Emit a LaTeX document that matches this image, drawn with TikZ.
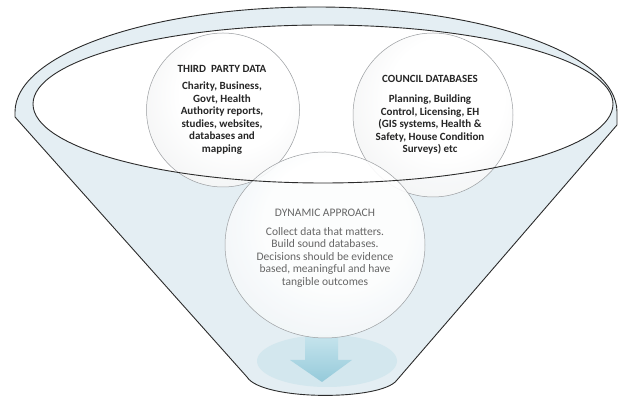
\documentclass[tikz,border=0pt]{standalone}
\usepackage{fontspec}
\setmainfont{Carlito}
\usetikzlibrary{shapes.geometric}
\definecolor{funnelfill}{HTML}{E4EEF3}
\definecolor{funnelline}{HTML}{2B2B2B}
\definecolor{circline}{HTML}{9A9DA0}
\definecolor{arrowtop}{HTML}{C4E3EC}
\definecolor{arrowbot}{HTML}{95CADA}
\definecolor{pool}{HTML}{D3E7EE}
\definecolor{darktext}{HTML}{262626}
\definecolor{greytext}{HTML}{666666}
\definecolor{ballgreyA}{HTML}{EDEEEF}
\definecolor{ballgreyB}{HTML}{C9CCCF}
\definecolor{ballblueA}{HTML}{E9F0F3}
\definecolor{ballblueB}{HTML}{C3D3DA}
\pgfdeclareradialshading{greyball}{\pgfpoint{6bp}{8bp}}{color(0bp)=(white); color(18bp)=(white); color(40bp)=(ballgreyA); color(56bp)=(ballgreyB)}
\pgfdeclareradialshading{blueball}{\pgfpoint{4bp}{8bp}}{color(0bp)=(white); color(18bp)=(white); color(40bp)=(ballblueA); color(56bp)=(ballblueB)}
\tikzset{
  funnelstroke/.style={draw=funnelline, line width=0.9pt},
  ballbase/.style={ellipse, draw=circline, line width=0.5pt, inner sep=0pt, fill opacity=0.9},
  greycirc/.style={ballbase, shading=greyball},
  bluecirc/.style={ballbase, shading=blueball},
  toptext/.style={align=center, text=darktext, inner sep=0pt, font=\bfseries\fontsize{11}{12.5}\selectfont},
  lowtext/.style={align=center, text=greytext, inner sep=0pt, font=\fontsize{11.5}{12.5}\selectfont},
}
\begin{document}
\begin{tikzpicture}[x=1pt,y=1pt]
\useasboundingbox (0,0) rectangle (619,398);
% funnel body
\coordinate (rimL) at (15,286);
\coordinate (sideL) at (15,281);
\coordinate (sideR) at (617,273);
\coordinate (botL) at (247,21);
\coordinate (botR) at (397,18);
\path[fill=funnelfill, funnelstroke] (rimL) arc[start angle=180, end angle=0, x radius=301, y radius=105]
  -- (sideR) -- (botR) .. controls (382,-3) and (262,-3) .. (botL) -- (sideL) -- cycle;
% opening
\coordinate (open) at (323,294);
\fill[white] (open) ellipse[x radius=290, y radius=79];
% pool and arrow
\coordinate (poolc) at (327,37);
\fill[pool] (poolc) ellipse[x radius=70, y radius=26];
\shade[top color=arrowtop, bottom color=arrowbot]
  (305,61) -- (338,61) -- (338,38) -- (352,38) -- (322,16) -- (290,38) -- (305,38) -- cycle;
% circles
\node[greycirc, minimum width=153pt, minimum height=154pt] (tp) at (223,288) {};
\node[greycirc, minimum width=160pt, minimum height=164pt] (cd) at (433,283) {};
\node[bluecirc, minimum width=200pt, minimum height=186pt] (da) at (325,153) {};
% opening outline on top
\draw[funnelstroke] (open) ellipse[x radius=290, y radius=79];
% texts
\node[toptext] (tpt) at ([xshift=-1pt]tp.center) {THIRD\ \ PARTY DATA\\[4.5pt]Charity, Business,\\Govt, Health\\Authority reports,\\studies, websites,\\databases and\\mapping};
\node[toptext] (cdt) at ([xshift=-3pt]cd.center) {COUNCIL DATABASES\\[7.5pt]Planning, Building\\Control, Licensing, EH\\(GIS systems, Health \&\\Safety, House Condition\\Surveys) etc};
\node[lowtext] (dat) at ([yshift=-3pt]da.center) {DYNAMIC APPROACH\\[6.5pt]Collect data that matters.\\Build sound databases.\\Decisions should be evidence\\based, meaningful and have\\tangible outcomes};
\end{tikzpicture}
\end{document}
